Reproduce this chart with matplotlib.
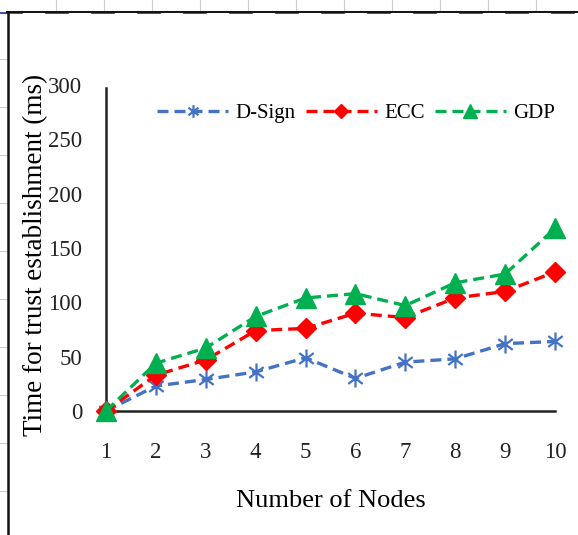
import matplotlib
matplotlib.use("Agg")
import matplotlib.pyplot as plt
from matplotlib.lines import Line2D
from matplotlib.path import Path

# ---------------------------------------------------------------------------
# DATA
# ---------------------------------------------------------------------------
nodes = [1, 2, 3, 4, 5, 6, 7, 8, 9, 10]
dsign = [0, 23, 29, 36, 49, 30, 45, 48, 62, 64]
ecc = [0, 33, 47, 74, 76, 90, 86, 104, 110, 128]
gdp = [0, 44, 58, 87, 104, 108, 97, 118, 126, 168]
series_names = ["D-Sign", "ECC", "GDP"]
y_ticks = [0, 50, 100, 150, 200, 250, 300]

W, H = 578, 535
plt.rcParams["font.family"] = ["Liberation Serif", "DejaVu Serif"]

# asterisk marker: vertical bar plus an X
star = Path(
    [(0, -1), (0, 1), (-0.8, -0.6), (0.8, 0.6), (-0.8, 0.6), (0.8, -0.6)],
    [Path.MOVETO, Path.LINETO, Path.MOVETO, Path.LINETO, Path.MOVETO, Path.LINETO],
)

fig = plt.figure(figsize=(W / 100, H / 100), dpi=100)
ax = fig.add_axes([106 / W, 1 - 411 / H, (555 - 106) / W, (411 - 85) / H])

dash = (0, (3.3, 1.8))
styles = [
    dict(color="#4472C4", marker=star, markersize=13, markeredgewidth=1.6,
         markerfacecolor="none"),
    dict(color="#FF0000", marker="D", markersize=10),
    dict(color="#00B050", marker="^", markersize=14),
]
for vals, name, st in zip([dsign, ecc, gdp], series_names, styles):
    ax.plot(nodes, vals, linestyle=dash, linewidth=2.4, label=name,
            clip_on=False, zorder=3, **st)

ax.set_xlim(1, 10)
ax.set_ylim(0, 300)
ax.set_xticks(nodes)
ax.set_yticks(y_ticks)
ax.tick_params(length=0, labelsize=16.5, colors="#222222")
ax.tick_params(axis="x", pad=22)
ax.tick_params(axis="y", pad=17)
for s in ["top", "right"]:
    ax.spines[s].set_visible(False)
for s in ["left", "bottom"]:
    ax.spines[s].set_linewidth(1.8)
    ax.spines[s].set_color("#222222")
ax.spines["left"].set_bounds(0, 297)

ax.set_xlabel("Number of Nodes", fontsize=19, labelpad=20)
ax.set_ylabel("Time for trust establishment (ms)", fontsize=19.5)
ax.yaxis.set_label_coords(-0.128, 0.48)

ax.legend(loc="center", bbox_to_anchor=(356 / W, 1 - 113 / H),
          bbox_transform=fig.transFigure, ncol=3, frameon=False,
          fontsize=15, handlelength=3.4, columnspacing=0.5,
          handletextpad=0.35, markerscale=0.7)

# spreadsheet frame around the pasted chart
def px_line(x0, y0, x1, y1, **kw):
    fig.add_artist(Line2D([x0 / W, x1 / W], [1 - y0 / H, 1 - y1 / H],
                          transform=fig.transFigure, **kw))

for gx in range(56, 578, 48):
    px_line(gx, 0, gx, 11, color="#cccccc", linewidth=0.8)
for gy in range(59, 535, 48):
    px_line(0, gy, 7, gy, color="#cccccc", linewidth=0.8)
for dx in range(0, 578, 46):
    px_line(dx, 13, dx + 22, 13, color="#1f2f8f", linewidth=1.2)
px_line(7, 12, 578, 12, color="#111111", linewidth=1.4)
px_line(7.5, 12, 7.5, 535, color="#111111", linewidth=1.8)

fig.savefig("out.png", dpi=100)
